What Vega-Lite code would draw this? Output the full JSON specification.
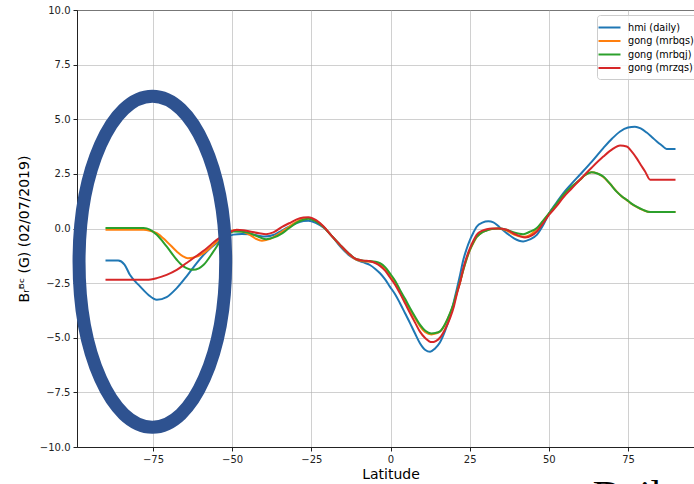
{
  "$schema": "https://vega.github.io/schema/vega-lite/v6.json",
  "width": 627,
  "height": 437,
  "autosize": {"type": "none"},
  "padding": {"left": 77, "top": 10, "right": -10, "bottom": 37},
  "background": "white",
  "config": {
    "view": {"stroke": "#222222", "strokeWidth": 1},
    "font": "DejaVu Sans",
    "axis": {
      "labelFont": "DejaVu Sans",
      "labelFontSize": 10,
      "labelColor": "#222222",
      "titleFont": "DejaVu Sans",
      "titleFontSize": 14,
      "titleFontWeight": "normal",
      "titleColor": "#000000",
      "tickColor": "#222222",
      "tickSize": 4,
      "tickWidth": 1,
      "domainColor": "#222222",
      "domainWidth": 1,
      "gridColor": "#b0b0b0",
      "gridOpacity": 0.6,
      "gridWidth": 1,
      "labelPadding": 3,
      "labelFlush": false,
      "labelOverlap": false
    }
  },
  "datasets": {
    "curves": [
      {"s": "hmi (daily)", "lat": -90, "v": -1.47},
      {"s": "hmi (daily)", "lat": -86, "v": -1.47},
      {"s": "hmi (daily)", "lat": -84, "v": -1.65},
      {"s": "hmi (daily)", "lat": -82.3, "v": -2.12},
      {"s": "hmi (daily)", "lat": -79.1, "v": -2.65},
      {"s": "hmi (daily)", "lat": -76.5, "v": -3.03},
      {"s": "hmi (daily)", "lat": -73.8, "v": -3.26},
      {"s": "hmi (daily)", "lat": -70.7, "v": -3.14},
      {"s": "hmi (daily)", "lat": -67.5, "v": -2.73},
      {"s": "hmi (daily)", "lat": -64.4, "v": -2.19},
      {"s": "hmi (daily)", "lat": -61.2, "v": -1.58},
      {"s": "hmi (daily)", "lat": -58, "v": -1.05},
      {"s": "hmi (daily)", "lat": -54.9, "v": -0.67},
      {"s": "hmi (daily)", "lat": -52.8, "v": -0.49},
      {"s": "hmi (daily)", "lat": -51, "v": -0.35},
      {"s": "hmi (daily)", "lat": -49.6, "v": -0.28},
      {"s": "hmi (daily)", "lat": -47, "v": -0.25},
      {"s": "hmi (daily)", "lat": -44.4, "v": -0.26},
      {"s": "hmi (daily)", "lat": -42, "v": -0.32},
      {"s": "hmi (daily)", "lat": -39.6, "v": -0.37},
      {"s": "hmi (daily)", "lat": -37, "v": -0.3},
      {"s": "hmi (daily)", "lat": -34.9, "v": -0.14},
      {"s": "hmi (daily)", "lat": -32, "v": 0.08},
      {"s": "hmi (daily)", "lat": -29.6, "v": 0.25},
      {"s": "hmi (daily)", "lat": -27.5, "v": 0.34},
      {"s": "hmi (daily)", "lat": -25.9, "v": 0.36},
      {"s": "hmi (daily)", "lat": -23.5, "v": 0.25},
      {"s": "hmi (daily)", "lat": -21.2, "v": 0.05},
      {"s": "hmi (daily)", "lat": -18.5, "v": -0.35},
      {"s": "hmi (daily)", "lat": -15.9, "v": -0.82},
      {"s": "hmi (daily)", "lat": -13.3, "v": -1.2},
      {"s": "hmi (daily)", "lat": -10.7, "v": -1.44},
      {"s": "hmi (daily)", "lat": -8.5, "v": -1.55},
      {"s": "hmi (daily)", "lat": -6.5, "v": -1.67},
      {"s": "hmi (daily)", "lat": -4.8, "v": -1.85},
      {"s": "hmi (daily)", "lat": -3.3, "v": -2.05},
      {"s": "hmi (daily)", "lat": -1.7, "v": -2.33},
      {"s": "hmi (daily)", "lat": -0.2, "v": -2.66},
      {"s": "hmi (daily)", "lat": 1.5, "v": -3.02},
      {"s": "hmi (daily)", "lat": 3, "v": -3.42},
      {"s": "hmi (daily)", "lat": 4.6, "v": -3.88},
      {"s": "hmi (daily)", "lat": 6.2, "v": -4.34},
      {"s": "hmi (daily)", "lat": 7.8, "v": -4.82},
      {"s": "hmi (daily)", "lat": 9.3, "v": -5.25},
      {"s": "hmi (daily)", "lat": 11, "v": -5.56},
      {"s": "hmi (daily)", "lat": 12.5, "v": -5.64},
      {"s": "hmi (daily)", "lat": 14, "v": -5.5},
      {"s": "hmi (daily)", "lat": 15.6, "v": -5.22},
      {"s": "hmi (daily)", "lat": 17.2, "v": -4.7},
      {"s": "hmi (daily)", "lat": 18.8, "v": -4.02},
      {"s": "hmi (daily)", "lat": 20, "v": -3.35},
      {"s": "hmi (daily)", "lat": 20.9, "v": -2.8},
      {"s": "hmi (daily)", "lat": 22, "v": -2.1},
      {"s": "hmi (daily)", "lat": 23, "v": -1.43},
      {"s": "hmi (daily)", "lat": 24, "v": -0.95},
      {"s": "hmi (daily)", "lat": 25.1, "v": -0.52},
      {"s": "hmi (daily)", "lat": 26.2, "v": -0.18},
      {"s": "hmi (daily)", "lat": 27.2, "v": 0.08},
      {"s": "hmi (daily)", "lat": 29, "v": 0.27},
      {"s": "hmi (daily)", "lat": 30.9, "v": 0.33},
      {"s": "hmi (daily)", "lat": 32.5, "v": 0.28},
      {"s": "hmi (daily)", "lat": 34.5, "v": 0.05},
      {"s": "hmi (daily)", "lat": 36.7, "v": -0.21},
      {"s": "hmi (daily)", "lat": 39, "v": -0.45},
      {"s": "hmi (daily)", "lat": 41.9, "v": -0.59},
      {"s": "hmi (daily)", "lat": 44, "v": -0.5},
      {"s": "hmi (daily)", "lat": 46.2, "v": -0.29},
      {"s": "hmi (daily)", "lat": 48, "v": 0.1},
      {"s": "hmi (daily)", "lat": 50.1, "v": 0.7},
      {"s": "hmi (daily)", "lat": 52.5, "v": 1.2},
      {"s": "hmi (daily)", "lat": 54.6, "v": 1.62},
      {"s": "hmi (daily)", "lat": 57.2, "v": 2.05},
      {"s": "hmi (daily)", "lat": 59.8, "v": 2.46},
      {"s": "hmi (daily)", "lat": 63.5, "v": 3.05},
      {"s": "hmi (daily)", "lat": 67.2, "v": 3.68},
      {"s": "hmi (daily)", "lat": 70, "v": 4.12},
      {"s": "hmi (daily)", "lat": 72.5, "v": 4.44},
      {"s": "hmi (daily)", "lat": 75, "v": 4.62},
      {"s": "hmi (daily)", "lat": 77.2, "v": 4.66},
      {"s": "hmi (daily)", "lat": 79, "v": 4.58},
      {"s": "hmi (daily)", "lat": 80.9, "v": 4.39},
      {"s": "hmi (daily)", "lat": 82.5, "v": 4.19},
      {"s": "hmi (daily)", "lat": 84.1, "v": 3.98},
      {"s": "hmi (daily)", "lat": 85.7, "v": 3.8},
      {"s": "hmi (daily)", "lat": 87.2, "v": 3.64},
      {"s": "hmi (daily)", "lat": 90, "v": 3.64},

      {"s": "gong (mrbqs)", "lat": -90, "v": -0.06},
      {"s": "gong (mrbqs)", "lat": -78, "v": -0.06},
      {"s": "gong (mrbqs)", "lat": -76, "v": -0.1},
      {"s": "gong (mrbqs)", "lat": -73.8, "v": -0.21},
      {"s": "gong (mrbqs)", "lat": -70.7, "v": -0.59},
      {"s": "gong (mrbqs)", "lat": -67.5, "v": -1.05},
      {"s": "gong (mrbqs)", "lat": -65.5, "v": -1.28},
      {"s": "gong (mrbqs)", "lat": -64, "v": -1.36},
      {"s": "gong (mrbqs)", "lat": -62.4, "v": -1.34},
      {"s": "gong (mrbqs)", "lat": -59, "v": -1.13},
      {"s": "gong (mrbqs)", "lat": -55.9, "v": -0.75},
      {"s": "gong (mrbqs)", "lat": -53.4, "v": -0.39},
      {"s": "gong (mrbqs)", "lat": -51, "v": -0.18},
      {"s": "gong (mrbqs)", "lat": -49.6, "v": -0.08},
      {"s": "gong (mrbqs)", "lat": -47.5, "v": -0.1},
      {"s": "gong (mrbqs)", "lat": -44.4, "v": -0.29},
      {"s": "gong (mrbqs)", "lat": -42.5, "v": -0.47},
      {"s": "gong (mrbqs)", "lat": -40.6, "v": -0.56},
      {"s": "gong (mrbqs)", "lat": -38.5, "v": -0.5},
      {"s": "gong (mrbqs)", "lat": -34.9, "v": -0.21},
      {"s": "gong (mrbqs)", "lat": -32, "v": 0.08},
      {"s": "gong (mrbqs)", "lat": -29.6, "v": 0.32},
      {"s": "gong (mrbqs)", "lat": -27.5, "v": 0.45},
      {"s": "gong (mrbqs)", "lat": -26, "v": 0.47},
      {"s": "gong (mrbqs)", "lat": -23.5, "v": 0.35},
      {"s": "gong (mrbqs)", "lat": -21.2, "v": 0.08},
      {"s": "gong (mrbqs)", "lat": -18.5, "v": -0.35},
      {"s": "gong (mrbqs)", "lat": -15.9, "v": -0.77},
      {"s": "gong (mrbqs)", "lat": -13.3, "v": -1.15},
      {"s": "gong (mrbqs)", "lat": -10.7, "v": -1.43},
      {"s": "gong (mrbqs)", "lat": -8.5, "v": -1.5},
      {"s": "gong (mrbqs)", "lat": -6.5, "v": -1.52},
      {"s": "gong (mrbqs)", "lat": -4.8, "v": -1.56},
      {"s": "gong (mrbqs)", "lat": -3.3, "v": -1.65},
      {"s": "gong (mrbqs)", "lat": -1.7, "v": -1.85},
      {"s": "gong (mrbqs)", "lat": -0.2, "v": -2.12},
      {"s": "gong (mrbqs)", "lat": 1.5, "v": -2.45},
      {"s": "gong (mrbqs)", "lat": 3, "v": -2.88},
      {"s": "gong (mrbqs)", "lat": 4.6, "v": -3.3},
      {"s": "gong (mrbqs)", "lat": 6.2, "v": -3.72},
      {"s": "gong (mrbqs)", "lat": 7.8, "v": -4.12},
      {"s": "gong (mrbqs)", "lat": 9.3, "v": -4.47},
      {"s": "gong (mrbqs)", "lat": 11, "v": -4.75},
      {"s": "gong (mrbqs)", "lat": 12.9, "v": -4.85},
      {"s": "gong (mrbqs)", "lat": 14.5, "v": -4.8},
      {"s": "gong (mrbqs)", "lat": 15.6, "v": -4.73},
      {"s": "gong (mrbqs)", "lat": 17.2, "v": -4.4},
      {"s": "gong (mrbqs)", "lat": 18.8, "v": -3.9},
      {"s": "gong (mrbqs)", "lat": 20, "v": -3.45},
      {"s": "gong (mrbqs)", "lat": 20.9, "v": -2.98},
      {"s": "gong (mrbqs)", "lat": 22, "v": -2.45},
      {"s": "gong (mrbqs)", "lat": 23, "v": -1.9},
      {"s": "gong (mrbqs)", "lat": 24, "v": -1.42},
      {"s": "gong (mrbqs)", "lat": 25.1, "v": -0.98},
      {"s": "gong (mrbqs)", "lat": 26.2, "v": -0.65},
      {"s": "gong (mrbqs)", "lat": 27.2, "v": -0.4},
      {"s": "gong (mrbqs)", "lat": 29, "v": -0.17},
      {"s": "gong (mrbqs)", "lat": 30.4, "v": -0.08},
      {"s": "gong (mrbqs)", "lat": 32, "v": -0.02},
      {"s": "gong (mrbqs)", "lat": 34, "v": 0.0},
      {"s": "gong (mrbqs)", "lat": 36.7, "v": -0.1},
      {"s": "gong (mrbqs)", "lat": 39, "v": -0.28},
      {"s": "gong (mrbqs)", "lat": 41.9, "v": -0.38},
      {"s": "gong (mrbqs)", "lat": 44, "v": -0.3},
      {"s": "gong (mrbqs)", "lat": 46.2, "v": -0.02},
      {"s": "gong (mrbqs)", "lat": 48, "v": 0.3},
      {"s": "gong (mrbqs)", "lat": 50.1, "v": 0.68},
      {"s": "gong (mrbqs)", "lat": 52.5, "v": 1.12},
      {"s": "gong (mrbqs)", "lat": 54.6, "v": 1.52},
      {"s": "gong (mrbqs)", "lat": 57.2, "v": 1.9},
      {"s": "gong (mrbqs)", "lat": 59.8, "v": 2.22},
      {"s": "gong (mrbqs)", "lat": 61.5, "v": 2.45},
      {"s": "gong (mrbqs)", "lat": 63.5, "v": 2.57},
      {"s": "gong (mrbqs)", "lat": 65.3, "v": 2.52},
      {"s": "gong (mrbqs)", "lat": 67.2, "v": 2.36},
      {"s": "gong (mrbqs)", "lat": 69.3, "v": 2.05},
      {"s": "gong (mrbqs)", "lat": 71.4, "v": 1.7},
      {"s": "gong (mrbqs)", "lat": 73, "v": 1.47},
      {"s": "gong (mrbqs)", "lat": 74.6, "v": 1.3},
      {"s": "gong (mrbqs)", "lat": 76, "v": 1.14},
      {"s": "gong (mrbqs)", "lat": 77.7, "v": 0.99},
      {"s": "gong (mrbqs)", "lat": 79.8, "v": 0.84},
      {"s": "gong (mrbqs)", "lat": 82, "v": 0.75},
      {"s": "gong (mrbqs)", "lat": 90, "v": 0.75},

      {"s": "gong (mrbqj)", "lat": -90, "v": 0.02},
      {"s": "gong (mrbqj)", "lat": -78, "v": 0.02},
      {"s": "gong (mrbqj)", "lat": -76, "v": -0.05},
      {"s": "gong (mrbqj)", "lat": -73.8, "v": -0.29},
      {"s": "gong (mrbqj)", "lat": -70.7, "v": -0.82},
      {"s": "gong (mrbqj)", "lat": -67.5, "v": -1.43},
      {"s": "gong (mrbqj)", "lat": -65.5, "v": -1.72},
      {"s": "gong (mrbqj)", "lat": -64.4, "v": -1.81},
      {"s": "gong (mrbqj)", "lat": -62.4, "v": -1.89},
      {"s": "gong (mrbqj)", "lat": -60.5, "v": -1.82},
      {"s": "gong (mrbqj)", "lat": -59, "v": -1.66},
      {"s": "gong (mrbqj)", "lat": -55.9, "v": -1.05},
      {"s": "gong (mrbqj)", "lat": -53.4, "v": -0.52},
      {"s": "gong (mrbqj)", "lat": -51, "v": -0.25},
      {"s": "gong (mrbqj)", "lat": -49.6, "v": -0.14},
      {"s": "gong (mrbqj)", "lat": -47, "v": -0.15},
      {"s": "gong (mrbqj)", "lat": -44.4, "v": -0.21},
      {"s": "gong (mrbqj)", "lat": -42, "v": -0.36},
      {"s": "gong (mrbqj)", "lat": -39.3, "v": -0.49},
      {"s": "gong (mrbqj)", "lat": -37, "v": -0.42},
      {"s": "gong (mrbqj)", "lat": -34.1, "v": -0.21},
      {"s": "gong (mrbqj)", "lat": -32, "v": 0.02},
      {"s": "gong (mrbqj)", "lat": -29.6, "v": 0.27},
      {"s": "gong (mrbqj)", "lat": -27.5, "v": 0.4},
      {"s": "gong (mrbqj)", "lat": -25.9, "v": 0.45},
      {"s": "gong (mrbqj)", "lat": -23.5, "v": 0.32},
      {"s": "gong (mrbqj)", "lat": -21.2, "v": 0.08},
      {"s": "gong (mrbqj)", "lat": -18.5, "v": -0.35},
      {"s": "gong (mrbqj)", "lat": -15.9, "v": -0.75},
      {"s": "gong (mrbqj)", "lat": -13.3, "v": -1.12},
      {"s": "gong (mrbqj)", "lat": -10.7, "v": -1.41},
      {"s": "gong (mrbqj)", "lat": -8.5, "v": -1.47},
      {"s": "gong (mrbqj)", "lat": -6.5, "v": -1.49},
      {"s": "gong (mrbqj)", "lat": -4.8, "v": -1.52},
      {"s": "gong (mrbqj)", "lat": -3.3, "v": -1.59},
      {"s": "gong (mrbqj)", "lat": -1.7, "v": -1.77},
      {"s": "gong (mrbqj)", "lat": -0.2, "v": -2.05},
      {"s": "gong (mrbqj)", "lat": 1.5, "v": -2.4},
      {"s": "gong (mrbqj)", "lat": 3, "v": -2.81},
      {"s": "gong (mrbqj)", "lat": 4.6, "v": -3.22},
      {"s": "gong (mrbqj)", "lat": 6.2, "v": -3.65},
      {"s": "gong (mrbqj)", "lat": 7.8, "v": -4.05},
      {"s": "gong (mrbqj)", "lat": 9.3, "v": -4.4},
      {"s": "gong (mrbqj)", "lat": 11, "v": -4.68},
      {"s": "gong (mrbqj)", "lat": 12.9, "v": -4.8},
      {"s": "gong (mrbqj)", "lat": 14.2, "v": -4.78},
      {"s": "gong (mrbqj)", "lat": 15.6, "v": -4.71},
      {"s": "gong (mrbqj)", "lat": 17.2, "v": -4.38},
      {"s": "gong (mrbqj)", "lat": 18.8, "v": -3.87},
      {"s": "gong (mrbqj)", "lat": 20, "v": -3.4},
      {"s": "gong (mrbqj)", "lat": 20.9, "v": -2.95},
      {"s": "gong (mrbqj)", "lat": 22, "v": -2.42},
      {"s": "gong (mrbqj)", "lat": 23, "v": -1.89},
      {"s": "gong (mrbqj)", "lat": 24, "v": -1.4},
      {"s": "gong (mrbqj)", "lat": 25.1, "v": -0.97},
      {"s": "gong (mrbqj)", "lat": 26.2, "v": -0.63},
      {"s": "gong (mrbqj)", "lat": 27.2, "v": -0.39},
      {"s": "gong (mrbqj)", "lat": 29, "v": -0.17},
      {"s": "gong (mrbqj)", "lat": 30.4, "v": -0.09},
      {"s": "gong (mrbqj)", "lat": 32, "v": -0.02},
      {"s": "gong (mrbqj)", "lat": 34, "v": 0.0},
      {"s": "gong (mrbqj)", "lat": 36.7, "v": -0.06},
      {"s": "gong (mrbqj)", "lat": 39, "v": -0.18},
      {"s": "gong (mrbqj)", "lat": 41.9, "v": -0.26},
      {"s": "gong (mrbqj)", "lat": 44, "v": -0.15},
      {"s": "gong (mrbqj)", "lat": 46.2, "v": 0.02},
      {"s": "gong (mrbqj)", "lat": 48, "v": 0.32},
      {"s": "gong (mrbqj)", "lat": 50.1, "v": 0.7},
      {"s": "gong (mrbqj)", "lat": 52.5, "v": 1.15},
      {"s": "gong (mrbqj)", "lat": 54.6, "v": 1.54},
      {"s": "gong (mrbqj)", "lat": 57.2, "v": 1.92},
      {"s": "gong (mrbqj)", "lat": 59.8, "v": 2.23},
      {"s": "gong (mrbqj)", "lat": 61.5, "v": 2.45},
      {"s": "gong (mrbqj)", "lat": 63.5, "v": 2.58},
      {"s": "gong (mrbqj)", "lat": 65.3, "v": 2.52},
      {"s": "gong (mrbqj)", "lat": 67.2, "v": 2.38},
      {"s": "gong (mrbqj)", "lat": 69.3, "v": 2.05},
      {"s": "gong (mrbqj)", "lat": 71.4, "v": 1.69},
      {"s": "gong (mrbqj)", "lat": 73, "v": 1.48},
      {"s": "gong (mrbqj)", "lat": 74.6, "v": 1.31},
      {"s": "gong (mrbqj)", "lat": 76, "v": 1.15},
      {"s": "gong (mrbqj)", "lat": 77.7, "v": 1.0},
      {"s": "gong (mrbqj)", "lat": 79.8, "v": 0.85},
      {"s": "gong (mrbqj)", "lat": 82, "v": 0.75},
      {"s": "gong (mrbqj)", "lat": 90, "v": 0.75},

      {"s": "gong (mrzqs)", "lat": -90, "v": -2.35},
      {"s": "gong (mrzqs)", "lat": -77, "v": -2.35},
      {"s": "gong (mrzqs)", "lat": -73.8, "v": -2.27},
      {"s": "gong (mrzqs)", "lat": -70.7, "v": -2.12},
      {"s": "gong (mrzqs)", "lat": -67.5, "v": -1.89},
      {"s": "gong (mrzqs)", "lat": -64.4, "v": -1.58},
      {"s": "gong (mrzqs)", "lat": -61.2, "v": -1.25},
      {"s": "gong (mrzqs)", "lat": -58, "v": -0.9},
      {"s": "gong (mrzqs)", "lat": -54.9, "v": -0.52},
      {"s": "gong (mrzqs)", "lat": -52.8, "v": -0.33},
      {"s": "gong (mrzqs)", "lat": -50.5, "v": -0.15},
      {"s": "gong (mrzqs)", "lat": -48.6, "v": -0.06},
      {"s": "gong (mrzqs)", "lat": -46.5, "v": -0.08},
      {"s": "gong (mrzqs)", "lat": -44.4, "v": -0.14},
      {"s": "gong (mrzqs)", "lat": -41.5, "v": -0.22},
      {"s": "gong (mrzqs)", "lat": -39.3, "v": -0.26},
      {"s": "gong (mrzqs)", "lat": -37, "v": -0.18},
      {"s": "gong (mrzqs)", "lat": -34.1, "v": 0.09},
      {"s": "gong (mrzqs)", "lat": -32, "v": 0.24},
      {"s": "gong (mrzqs)", "lat": -29.6, "v": 0.42},
      {"s": "gong (mrzqs)", "lat": -27.5, "v": 0.5},
      {"s": "gong (mrzqs)", "lat": -25.9, "v": 0.52},
      {"s": "gong (mrzqs)", "lat": -23.5, "v": 0.38},
      {"s": "gong (mrzqs)", "lat": -21.2, "v": 0.1},
      {"s": "gong (mrzqs)", "lat": -18.5, "v": -0.35},
      {"s": "gong (mrzqs)", "lat": -15.9, "v": -0.75},
      {"s": "gong (mrzqs)", "lat": -13.3, "v": -1.13},
      {"s": "gong (mrzqs)", "lat": -10.7, "v": -1.41},
      {"s": "gong (mrzqs)", "lat": -8.5, "v": -1.47},
      {"s": "gong (mrzqs)", "lat": -6.5, "v": -1.5},
      {"s": "gong (mrzqs)", "lat": -4.8, "v": -1.58},
      {"s": "gong (mrzqs)", "lat": -3.3, "v": -1.71},
      {"s": "gong (mrzqs)", "lat": -1.7, "v": -1.93},
      {"s": "gong (mrzqs)", "lat": -0.2, "v": -2.23},
      {"s": "gong (mrzqs)", "lat": 1.5, "v": -2.58},
      {"s": "gong (mrzqs)", "lat": 3, "v": -2.97},
      {"s": "gong (mrzqs)", "lat": 4.6, "v": -3.42},
      {"s": "gong (mrzqs)", "lat": 6.2, "v": -3.88},
      {"s": "gong (mrzqs)", "lat": 7.8, "v": -4.32},
      {"s": "gong (mrzqs)", "lat": 9.3, "v": -4.72},
      {"s": "gong (mrzqs)", "lat": 11, "v": -5.02},
      {"s": "gong (mrzqs)", "lat": 13, "v": -5.2},
      {"s": "gong (mrzqs)", "lat": 14.3, "v": -5.15},
      {"s": "gong (mrzqs)", "lat": 15.6, "v": -5.0},
      {"s": "gong (mrzqs)", "lat": 17.2, "v": -4.62},
      {"s": "gong (mrzqs)", "lat": 18.8, "v": -4.1},
      {"s": "gong (mrzqs)", "lat": 20, "v": -3.58},
      {"s": "gong (mrzqs)", "lat": 20.9, "v": -3.03},
      {"s": "gong (mrzqs)", "lat": 22, "v": -2.45},
      {"s": "gong (mrzqs)", "lat": 23, "v": -1.82},
      {"s": "gong (mrzqs)", "lat": 24, "v": -1.33},
      {"s": "gong (mrzqs)", "lat": 25.1, "v": -0.9},
      {"s": "gong (mrzqs)", "lat": 26.2, "v": -0.55},
      {"s": "gong (mrzqs)", "lat": 27.2, "v": -0.29},
      {"s": "gong (mrzqs)", "lat": 29, "v": -0.1},
      {"s": "gong (mrzqs)", "lat": 30.4, "v": -0.03},
      {"s": "gong (mrzqs)", "lat": 32, "v": 0.0},
      {"s": "gong (mrzqs)", "lat": 34, "v": 0.0},
      {"s": "gong (mrzqs)", "lat": 36.7, "v": -0.06},
      {"s": "gong (mrzqs)", "lat": 39, "v": -0.24},
      {"s": "gong (mrzqs)", "lat": 42.5, "v": -0.41},
      {"s": "gong (mrzqs)", "lat": 44.5, "v": -0.33},
      {"s": "gong (mrzqs)", "lat": 46.2, "v": -0.14},
      {"s": "gong (mrzqs)", "lat": 48, "v": 0.2},
      {"s": "gong (mrzqs)", "lat": 50.1, "v": 0.63},
      {"s": "gong (mrzqs)", "lat": 52.5, "v": 1.03},
      {"s": "gong (mrzqs)", "lat": 54.6, "v": 1.43},
      {"s": "gong (mrzqs)", "lat": 57.2, "v": 1.83},
      {"s": "gong (mrzqs)", "lat": 59.8, "v": 2.23},
      {"s": "gong (mrzqs)", "lat": 63.5, "v": 2.78},
      {"s": "gong (mrzqs)", "lat": 67.2, "v": 3.29},
      {"s": "gong (mrzqs)", "lat": 70, "v": 3.62},
      {"s": "gong (mrzqs)", "lat": 72.5, "v": 3.8},
      {"s": "gong (mrzqs)", "lat": 74.6, "v": 3.75},
      {"s": "gong (mrzqs)", "lat": 76, "v": 3.55},
      {"s": "gong (mrzqs)", "lat": 77.7, "v": 3.22},
      {"s": "gong (mrzqs)", "lat": 79, "v": 2.92},
      {"s": "gong (mrzqs)", "lat": 80.4, "v": 2.61},
      {"s": "gong (mrzqs)", "lat": 82, "v": 2.23},
      {"s": "gong (mrzqs)", "lat": 90, "v": 2.23}
    ],
    "marker": [{"lat": -75.2, "v": -1.52}],
    "caption": [{"lat": 63.9, "v": -12.8, "t": "Dail"}]
  },
  "layer": [
    {
      "data": {"name": "curves"},
      "mark": {"type": "line", "strokeWidth": 2, "interpolate": "monotone"},
      "encoding": {
        "x": {
          "field": "lat",
          "type": "quantitative",
          "scale": {"domain": [-99, 99], "nice": false, "zero": false},
          "axis": {"values": [-75, -50, -25, 0, 25, 50, 75], "title": "Latitude", "titlePadding": 3, "format": "d"}
        },
        "y": {
          "field": "v",
          "type": "quantitative",
          "scale": {"domain": [-10, 10], "nice": false, "zero": false},
          "axis": {"values": [-10, -7.5, -5, -2.5, 0, 2.5, 5, 7.5, 10], "format": ".1f", "title": "Bᵣᴮᶜ (G) (02/07/2019)", "titlePadding": 8}
        },
        "color": {
          "field": "s",
          "type": "nominal",
          "scale": {
            "domain": ["hmi (daily)", "gong (mrbqs)", "gong (mrbqj)", "gong (mrzqs)"],
            "range": ["#1f77b4", "#ff7f0e", "#2ca02c", "#d62728"]
          },
          "legend": {
            "orient": "none",
            "legendX": 520,
            "legendY": 5,
            "title": null,
            "symbolType": "M-2,0H2",
            "symbolSize": 121,
            "symbolStrokeWidth": 2,
            "labelFont": "DejaVu Sans",
            "labelFontSize": 9.7,
            "labelColor": "#000000",
            "labelOffset": 12,
            "fillColor": "rgba(255,255,255,0.8)",
            "strokeColor": "#cccccc",
            "cornerRadius": 3,
            "padding": 6,
            "rowPadding": 1.5,
            "labelLimit": 200
          }
        }
      }
    },
    {
      "data": {"name": "marker"},
      "mark": {
        "type": "point",
        "shape": "M0,-1C0.2447,-1 0.443,-0.5523 0.443,0C0.443,0.5523 0.2447,1 0,1C-0.2447,1 -0.443,0.5523 -0.443,0C-0.443,-0.5523 -0.2447,-1 0,-1Z",
        "size": 109561,
        "filled": false,
        "stroke": "#2e5290",
        "strokeWidth": 13,
        "opacity": 1
      },
      "encoding": {
        "x": {"field": "lat", "type": "quantitative"},
        "y": {"field": "v", "type": "quantitative"}
      }
    },
    {
      "data": {"name": "caption"},
      "mark": {
        "type": "text",
        "font": "Liberation Serif",
        "fontSize": 40,
        "align": "left",
        "baseline": "alphabetic",
        "color": "#000000"
      },
      "encoding": {
        "x": {"field": "lat", "type": "quantitative"},
        "y": {"field": "v", "type": "quantitative"},
        "text": {"field": "t"}
      }
    }
  ]
}
